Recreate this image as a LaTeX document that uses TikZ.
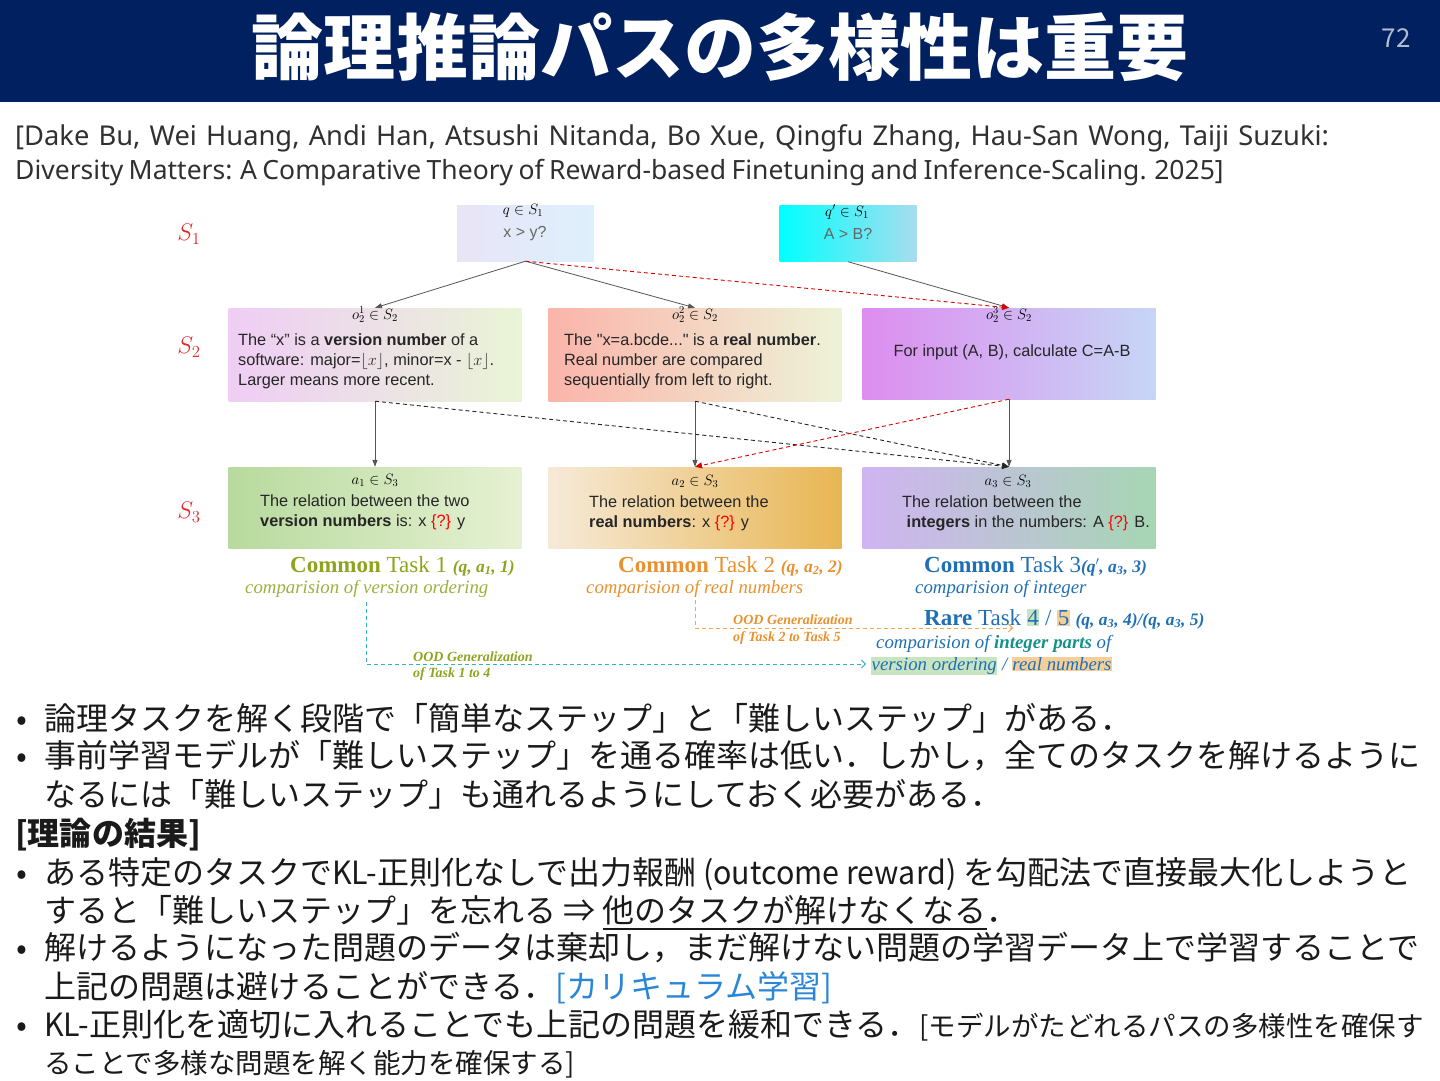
\RequirePackage{fix-cm}
\documentclass[tikz,border=0pt]{standalone}
\usepackage{amsmath,amssymb}
\usepackage{fontspec}
\setmainfont{Noto Sans CJK JP}
\newfontfamily\bodylatin[FakeStretch=0.95]{Noto Sans CJK JP}
\newfontfamily\boxfont{Liberation Sans}
\newfontfamily\taskfont{Liberation Serif}
\newfontfamily\citefont{Noto Sans}
\usetikzlibrary{positioning,arrows.meta}

\definecolor{navy}{HTML}{002060}
\definecolor{ink}{HTML}{1A1A1A}
\definecolor{citegray}{HTML}{303030}
\definecolor{setred}{HTML}{E02828}
\definecolor{edgegray}{HTML}{555555}
\definecolor{olivetask}{HTML}{8FA31E}
\definecolor{olivesub}{HTML}{9CB040}
\definecolor{orangetask}{HTML}{E8912E}
\definecolor{bluetask}{HTML}{1F6FB5}
\definecolor{tealtask}{HTML}{16908A}
\definecolor{oodcyan}{HTML}{3AAFC8}
\definecolor{oodorange}{HTML}{F0A848}
\definecolor{hlgreen}{HTML}{C8E4C0}
\definecolor{hlorange}{HTML}{F4CF9A}
\definecolor{linkblue}{HTML}{2A86D6}
% box shades
\definecolor{qL}{HTML}{E9E4F7}   \definecolor{qR}{HTML}{DDF0FB}
\definecolor{qpL}{HTML}{00FFFF}  \definecolor{qpR}{HTML}{A8DDEE}
\definecolor{oaL}{HTML}{EFCDF5}  \definecolor{oaR}{HTML}{EAF4D6}
\definecolor{obL}{HTML}{FBB4AA}  \definecolor{obR}{HTML}{EDF3D8}
\definecolor{ocL}{HTML}{DD8DEF}  \definecolor{ocR}{HTML}{C6D6F6}
\definecolor{aaL}{HTML}{B8DA9E}  \definecolor{aaR}{HTML}{E6F1D3}
\definecolor{abL}{HTML}{F6EAD8}  \definecolor{abR}{HTML}{E8B653}
\definecolor{acL}{HTML}{D0B4F2}  \definecolor{acM}{HTML}{A8C4EE} \definecolor{acR}{HTML}{A6D6B4}

\newcommand{\tasktuple}[1]{{\fontsize{17.5bp}{18bp}\selectfont\bfseries\itshape #1}}

\begin{document}
\begin{tikzpicture}[
  x=1bp, y=-1bp,
  >=Stealth,
  querybox/.style={inner sep=0pt, minimum width=137bp, minimum height=56bp},
  stagebox/.style={inner sep=0pt, minimum width=293bp},
  setlabel/.style={text=setred, font=\fontsize{24bp}{26bp}\selectfont},
  elemlabel/.style={inner sep=0pt, font=\fontsize{15bp}{17bp}\selectfont},
  boxtext/.style={inner sep=0pt, anchor=west, align=left, text=black!85, font=\boxfont\fontsize{16.3bp}{20bp}\selectfont},
  querytext/.style={inner sep=0pt, text=black!60, font=\boxfont\fontsize{16bp}{18bp}\selectfont},
  pathedge/.style={->, draw=edgegray, line width=0.8bp, >={Triangle[length=7bp,width=5bp]}},
  altedge/.style={->, draw=black!85, line width=0.9bp, dash pattern=on 4bp off 3bp, >={Triangle[length=7bp,width=6bp]}},
  redge/.style={->, draw=red!85!black, line width=0.9bp, dash pattern=on 4bp off 3bp, >={Triangle[length=7bp,width=6bp]}},
  oodedge/.style={->, line width=0.9bp, dash pattern=on 4bp off 3bp, >={Straight Barb[length=4bp,width=8bp]}},
  tasktext/.style={inner sep=0pt, anchor=west, font=\taskfont\fontsize{23bp}{26bp}\selectfont},
  tasksub/.style={inner sep=0pt, anchor=west, font=\taskfont\itshape\fontsize{18.8bp}{22bp}\selectfont},
  oodtext/.style={inner sep=0pt, anchor=west, font=\taskfont\bfseries\itshape\fontsize{14bp}{16bp}\selectfont},
  bodytext/.style={inner sep=0pt, anchor=base west, text=ink, font=\fontsize{32bp}{38bp}\selectfont},
  smalltext/.style={font=\fontsize{27.5bp}{32bp}\selectfont}
]
  \useasboundingbox (0,0) rectangle (1440,1080);

  % header
  \fill[navy] (0,0) rectangle (1440,102);
  \node[text=white, font=\bfseries\fontsize{72bp}{76bp}\selectfont] (title) at (720,47) {論理推論パスの多様性は重要};
  \node[text=white!70!navy, font=\fontsize{26bp}{28bp}\selectfont] (pagenum) at (1396,38) {72};

  % reference
  \node[inner sep=0pt, anchor=base west, text=citegray, font=\citefont\fontsize{27.3bp}{30bp}\selectfont] (cite1) at (15,145)
    {\spaceskip=9.2bp\relax [Dake Bu, Wei Huang, Andi Han, Atsushi Nitanda, Bo Xue, Qingfu Zhang, Hau-San Wong, Taiji Suzuki:};
  \node[inner sep=0pt, anchor=base west, text=citegray, font=\citefont\fontsize{26.5bp}{30bp}\selectfont] (cite2) at (15,179)
    {\spaceskip=5.4bp\relax Diversity Matters: A Comparative Theory of Reward-based Finetuning and Inference-Scaling. 2025]};

  % set labels
  \node[setlabel] (s1) at (189,234) {$S_1$};
  \node[setlabel] (s2) at (189,347) {$S_2$};
  \node[setlabel] (s3) at (189,512) {$S_3$};

  % S1 boxes
  \node[querybox, left color=qL, right color=qR] (q) at (525.5,233) {};
  \node[querybox, left color=qpL, right color=qpR] (qp) at (848,233.5) {};
  \node[elemlabel] (qlab) at (523,211) {$q\in S_1$};
  \node[querytext] (qtxt) at (525,234) {x > y?};
  \node[elemlabel] (qplab) at (847,212) {$q'\in S_1$};
  \node[querytext] (qptxt) at (848,234) {A > B?};

  % S2 boxes
  \node[stagebox, minimum height=93bp, left color=oaL, right color=oaR] (o1) at (375,354.5) {};
  \node[stagebox, minimum height=93bp, left color=obL, right color=obR] (o2) at (695,354.5) {};
  \node[stagebox, minimum height=91bp, left color=ocL, right color=ocR] (o3) at (1009,353.5) {};
  \node[elemlabel] (o1lab) at (375,315) {$o_2^1\in S_2$};
  \node[elemlabel] (o2lab) at (695,315) {$o_2^2\in S_2$};
  \node[elemlabel] (o3lab) at (1009,315) {$o_2^3\in S_2$};
  \node[boxtext] (o1txt) at (238,361) {The “x” is a \textbf{version number} of a\\software: major=$\lfloor x\rfloor$, minor=x - $\lfloor x\rfloor$.\\Larger means more recent.};
  \node[boxtext] (o2txt) at (564,361) {The "x=a.bcde..." is a \textbf{real number}.\\Real number are compared\\sequentially from left to right.};
  \node[boxtext, anchor=center] (o3txt) at (1012,352) {For input (A, B), calculate C=A-B};

  % S3 boxes
  \node[stagebox, minimum height=81bp, left color=aaL, right color=aaR] (a1) at (375,507.5) {};
  \node[stagebox, minimum height=81bp, left color=abL, right color=abR] (a2) at (695,507.5) {};
  \node[stagebox, minimum height=81bp, left color=acL, middle color=acM, right color=acR] (a3) at (1009,507.5) {};
  \node[elemlabel] (a1lab) at (375,480) {$a_1\in S_3$};
  \node[elemlabel] (a2lab) at (695,481) {$a_2\in S_3$};
  \node[elemlabel] (a3lab) at (1008,481) {$a_3\in S_3$};
  \node[boxtext] (a1txt) at (260,512) {The relation between the two\\\textbf{version numbers} is: x {\color{red}\{?\}} y};
  \node[boxtext] (a2txt) at (589,513) {The relation between the\\\textbf{real numbers}: x {\color{red}\{?\}} y};
  \node[boxtext] (a3txt) at (902,513) {The relation between the\\\ \textbf{integers} in the numbers: A {\color{red}\{?\}} B.};

  % reasoning paths
  \draw[pathedge] (q.south) -- (o1.north);
  \draw[pathedge] (q.south) -- (o2.north);
  \draw[pathedge] (qp.south) -- (o3.north);
  \draw[redge] (q.south) -- (o3.north);
  \draw[pathedge] (o1.south) -- (a1.north);
  \draw[pathedge] (o2.south) -- (a2.north);
  \draw[pathedge] (o3.south) -- (a3.north);
  \draw[altedge] (o1.south) -- (a3.north);
  \draw[altedge] (o2.south) -- (a3.north);
  \draw[redge] (o3.south) -- (a2.north);

  % tasks
  \node[tasktext, text=olivetask] (task1) at (290,566) {\textbf{Common} Task 1 \tasktuple{(q, a\textsubscript{1}, 1)}};
  \node[tasksub, text=olivesub] (task1sub) at (245,589) {comparision of version ordering};
  \node[tasktext, text=orangetask] (task2) at (618,566) {\textbf{Common} Task 2 \tasktuple{(q, a\textsubscript{2}, 2)}};
  \node[tasksub, text=orangetask] (task2sub) at (586,589) {comparision of real numbers};
  \node[tasktext, text=bluetask] (task3) at (924,566) {\textbf{Common} Task 3\tasktuple{(q$'$, a\textsubscript{3}, 3)}};
  \node[tasksub, text=bluetask] (task3sub) at (915,589) {comparision of integer};
  \node[tasktext, text=bluetask] (task45) at (924,619) {\setlength{\fboxsep}{0.5bp}\textbf{Rare} Task \colorbox{hlgreen}{4} / \colorbox{hlorange}{5} \tasktuple{(q, a\textsubscript{3}, 4)/(q, a\textsubscript{3}, 5)}};
  \node[tasksub, text=bluetask] (task45sub) at (876,644) {comparision of {\bfseries\color{tealtask}integer parts} of};
  \node[tasksub, text=bluetask] (task45obj) at (871,666) {\setlength{\fboxsep}{0.5bp}\colorbox{hlgreen}{version ordering} / \colorbox{hlorange}{real numbers}};

  % OOD generalization
  \coordinate (ood2top) at (695,600);
  \coordinate (ood2end) at (1013,628);
  \coordinate (ood1top) at (366,602);
  \coordinate (ood1end) at (866,664);
  \draw[oodedge, draw=oodorange] (ood2top) |- (ood2end);
  \draw[oodedge, draw=oodcyan] (ood1top) |- (ood1end);
  \node[oodtext, text=orangetask] (ood2a) at (733,620) {OOD Generalization};
  \node[oodtext, text=orangetask] (ood2b) at (733,638) {of Task 2 to Task 5};
  \node[oodtext, text=olivetask] (ood1a) at (413,657) {OOD Generalization};
  \node[oodtext, text=olivetask] (ood1b) at (413,674) {of Task 1 to 4};

  % bullets
  \node[bodytext] (b1) at (16,730) {•};
  \node[bodytext] (l1) at (44,730) {論理タスクを解く段階で「簡単なステップ」と「難しいステップ」がある．};
  \node[bodytext] (b2) at (16,767) {•};
  \node[bodytext] (l2) at (44,767) {事前学習モデルが「難しいステップ」を通る確率は低い．しかし，全てのタスクを解けるように};
  \node[bodytext] (l3) at (44,806) {なるには「難しいステップ」も通れるようにしておく必要がある．};
  \node[bodytext, font=\bfseries\fontsize{32bp}{38bp}\selectfont] (l4) at (15,845) {[理論の結果]};
  \node[bodytext] (b5) at (16,884) {•};
  \node[bodytext] (l5) at (44,884) {ある特定のタスクで{\bodylatin KL-}正則化なしで出力報酬 {\bodylatin (outcome reward)} を勾配法で直接最大化しようと};
  \node[bodytext] (l6) at (44,922) {すると「難しいステップ」を忘れる ⇒ \underline{他のタスクが解けなくなる}．};
  \node[bodytext] (b7) at (16,959) {•};
  \node[bodytext] (l7) at (44,959) {解けるようになった問題のデータは棄却し，まだ解けない問題の学習データ上で学習することで};
  \node[bodytext] (l8) at (44,998) {上記の問題は避けることができる．{\color{linkblue}[カリキュラム学習]}};
  \node[bodytext] (b9) at (16,1036) {•};
  \node[bodytext] (l9) at (44,1036) {{\bodylatin KL-}正則化を適切に入れることでも上記の問題を緩和できる．{\fontsize{27.5bp}{32bp}\selectfont[モデルがたどれるパスの多様性を確保す}};
  \node[bodytext, smalltext] (l10) at (44,1073) {ることで多様な問題を解く能力を確保する]};
\end{tikzpicture}
\end{document}
